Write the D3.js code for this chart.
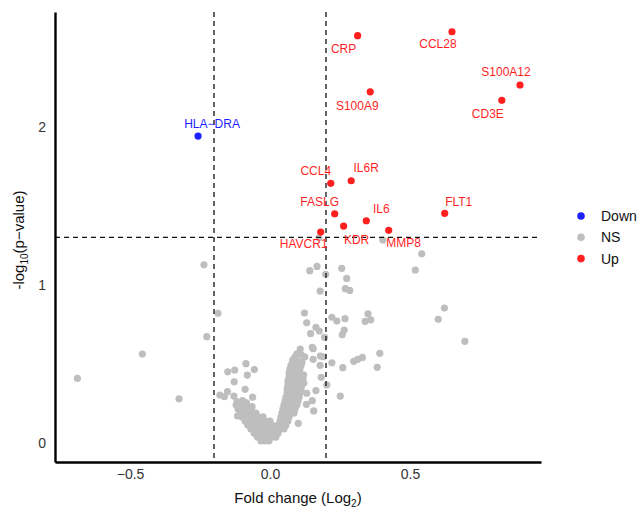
<!DOCTYPE html>
<html>
<head>
<meta charset="utf-8">
<script src="https://cdn.jsdelivr.net/npm/d3@7"></script>
<style>
  body { margin: 0; background: #fff; }
  text { font-family: "Liberation Sans", Arial, sans-serif; }
</style>
</head>
<body>
<div id="chart"></div>
<script>
// Significant genes
const sigNames = ["CRP", "CCL28", "S100A12", "CD3E", "S100A9", "CCL4", "IL6R", "FASLG", "IL6", "KDR", "HAVCR1", "MMP8", "FLT1", "HLA\u2212DRA"];
const sigFold  = [0.313, 0.650, 0.893, 0.828, 0.358, 0.217, 0.290, 0.231, 0.344, 0.263, 0.181, 0.424, 0.624, -0.257];
const sigLogP  = [2.578, 2.603, 2.266, 2.169, 2.223, 1.644, 1.660, 1.451, 1.407, 1.373, 1.335, 1.346, 1.454, 1.943];
const sigGroup = ["Up", "Up", "Up", "Up", "Up", "Up", "Up", "Up", "Up", "Up", "Up", "Up", "Up", "Down"];

// Non significant genes [fold change, -log10 p]
const nsPoints = [
  // scattered
  [-0.688, 0.409], [-0.456, 0.563], [-0.325, 0.280], [-0.236, 1.128], [-0.226, 0.673], [-0.186, 0.821],
  [-0.179, 0.304], [-0.152, 0.325], [-0.163, 0.293], [-0.151, 0.451], [-0.126, 0.462], [-0.128, 0.388],
  [-0.129, 0.297], [-0.118, 0.263], [-0.116, 0.171], [-0.086, 0.502], [-0.056, 0.465], [-0.081, 0.430],
  [-0.089, 0.340], [-0.062, 0.290], [-0.107, 0.247], [-0.064, 0.230], [-0.081, 0.128],
  [0.142, 1.091], [0.168, 1.118], [0.199, 1.068], [0.179, 0.962], [0.256, 1.106], [0.274, 1.042],
  [0.269, 0.977], [0.285, 0.966], [0.542, 1.198], [0.519, 1.095], [0.601, 0.783], [0.623, 0.854],
  [0.696, 0.644], [0.123, 0.823], [0.131, 0.761], [0.164, 0.732], [0.176, 0.709], [0.145, 0.692],
  [0.195, 0.669], [0.221, 0.796], [0.239, 0.772], [0.268, 0.787], [0.265, 0.715], [0.258, 0.685],
  [0.350, 0.818], [0.360, 0.780], [0.340, 0.770], [0.392, 0.568], [0.383, 0.479], [0.330, 0.542],
  [0.313, 0.530], [0.299, 0.517], [0.260, 0.477], [0.251, 0.297], [0.221, 0.508], [0.203, 0.367],
  [0.183, 0.416], [0.179, 0.492], [0.190, 0.546], [0.180, 0.551], [0.154, 0.597], [0.108, 0.595],
  [0.124, 0.546], [0.154, 0.530], [0.081, 0.525], [0.151, 0.606], [0.164, 0.332], [0.151, 0.268],
  [0.156, 0.203], [0.130, 0.245], [0.131, 0.315], [0.101, 0.125], [0.175, 1.299], [0.403, 1.285],
  // left arm of the funnel
  [-0.032, 0.013], [-0.018, 0.013], [-0.004, 0.013],
  [-0.046, 0.038], [-0.032, 0.038], [-0.018, 0.038], [-0.004, 0.038],
  [-0.057, 0.063], [-0.043, 0.063], [-0.029, 0.063], [-0.014, 0.063], [0.000, 0.063],
  [-0.068, 0.089], [-0.054, 0.089], [-0.039, 0.089], [-0.025, 0.089], [-0.011, 0.089], [0.004, 0.089],
  [-0.079, 0.114], [-0.064, 0.114], [-0.050, 0.114], [-0.036, 0.114], [-0.021, 0.114], [-0.007, 0.114], [0.007, 0.114],
  [-0.089, 0.139], [-0.075, 0.139], [-0.061, 0.139], [-0.046, 0.139], [-0.032, 0.139], [-0.018, 0.139], [0.000, 0.139],
  [-0.100, 0.165], [-0.086, 0.165], [-0.071, 0.165], [-0.057, 0.165], [-0.043, 0.165], [-0.025, 0.165],
  [-0.107, 0.190], [-0.093, 0.190], [-0.079, 0.190], [-0.064, 0.190], [-0.050, 0.190],
  [-0.114, 0.215], [-0.100, 0.215], [-0.086, 0.215], [-0.071, 0.215],
  [-0.121, 0.241], [-0.107, 0.241], [-0.093, 0.241], [-0.098, 0.268], [-0.084, 0.255],
  // right arm of the funnel
  [0.007, 0.038], [0.021, 0.038], [0.014, 0.063], [0.029, 0.063],
  [0.021, 0.089], [0.036, 0.089], [0.050, 0.089],
  [0.029, 0.114], [0.043, 0.114], [0.057, 0.114],
  [0.036, 0.139], [0.050, 0.139], [0.064, 0.139],
  [0.039, 0.165], [0.054, 0.165], [0.068, 0.165],
  [0.043, 0.190], [0.057, 0.190], [0.071, 0.190], [0.086, 0.190],
  [0.046, 0.215], [0.061, 0.215], [0.075, 0.215], [0.089, 0.215],
  [0.050, 0.241], [0.064, 0.241], [0.079, 0.241], [0.096, 0.241],
  [0.054, 0.266], [0.068, 0.266], [0.082, 0.266], [0.100, 0.266],
  [0.057, 0.291], [0.071, 0.291], [0.086, 0.291], [0.104, 0.291],
  [0.061, 0.316], [0.075, 0.316], [0.089, 0.316], [0.107, 0.316],
  [0.061, 0.342], [0.075, 0.342], [0.093, 0.342], [0.111, 0.342],
  [0.064, 0.367], [0.079, 0.367], [0.096, 0.367], [0.114, 0.367],
  [0.064, 0.392], [0.082, 0.392], [0.100, 0.392], [0.118, 0.405],
  [0.068, 0.418], [0.086, 0.418], [0.104, 0.418], [0.121, 0.380],
  [0.068, 0.443], [0.086, 0.443], [0.104, 0.443], [0.120, 0.432],
  [0.071, 0.468], [0.089, 0.468], [0.107, 0.470], [0.075, 0.494], [0.093, 0.494], [0.111, 0.490],
  [0.082, 0.519], [0.100, 0.519], [0.114, 0.512], [0.089, 0.544], [0.096, 0.565], [0.111, 0.560]
];

const xTicks = [-0.5, 0, 0.5];
const yTicks = [0, 1, 2];
const legendGroups = ["Down", "NS", "Up"];
const foldCut = 0.2;
const pCut = 0.05;

// label nudges in px (ggrepel placement in the original)
const labelNudge = {
  "CRP": [-14, 13], "CCL28": [-14, 12], "S100A12": [-14, -13], "CD3E": [-14, 13],
  "S100A9": [-13, 14], "CCL4": [-15, -12], "IL6R": [15, -13], "FASLG": [-15, -12],
  "IL6": [15, -12], "KDR": [13, 14], "HAVCR1": [-17, 12], "MMP8": [15, 12],
  "FLT1": [14, -11], "HLA\u2212DRA": [14, -12]
};

const colors = { Down: "#1f1fff", NS: "#bebebe", Up: "#ff1f1f" };

const width = 644, height = 514;
const margin = { top: 12, right: 103, bottom: 52, left: 55 };

const svg = d3.select("#chart").append("svg")
  .attr("width", width)
  .attr("height", height);

const x = d3.scaleLinear().domain([-0.768, 0.968]).range([margin.left, width - margin.right]);
const y = d3.scaleLinear().domain([-0.12, 2.728]).range([height - margin.bottom, margin.top]);

const sig = sigNames.map((n, i) => ({ name: n, fc: sigFold[i], lp: sigLogP[i], group: sigGroup[i] }));

// NS points
svg.append("g").selectAll("circle")
  .data(nsPoints)
  .join("circle")
  .attr("cx", d => x(d[0]))
  .attr("cy", d => y(d[1]))
  .attr("r", 3.6)
  .attr("fill", colors.NS);

// threshold lines
const dash = svg.append("g")
  .attr("stroke", "#111")
  .attr("stroke-width", 1.3)
  .attr("stroke-dasharray", "5,4")
  .attr("fill", "none");
[-foldCut, foldCut].forEach(v => {
  dash.append("line")
    .attr("x1", x(v)).attr("x2", x(v))
    .attr("y1", margin.top).attr("y2", height - margin.bottom);
});
dash.append("line")
  .attr("x1", margin.left).attr("x2", width - margin.right)
  .attr("y1", y(-Math.log10(pCut))).attr("y2", y(-Math.log10(pCut)));

// significant points
svg.append("g").selectAll("circle")
  .data(sig)
  .join("circle")
  .attr("cx", d => x(d.fc))
  .attr("cy", d => y(d.lp))
  .attr("r", 3.6)
  .attr("fill", d => colors[d.group]);

// labels
svg.append("g").selectAll("text")
  .data(sig)
  .join("text")
  .attr("x", d => x(d.fc) + labelNudge[d.name][0])
  .attr("y", d => y(d.lp) + labelNudge[d.name][1])
  .attr("dy", "0.35em")
  .attr("text-anchor", "middle")
  .attr("font-size", 12)
  .attr("fill", d => colors[d.group])
  .text(d => d.name);

// axes
const fmt = d => d === 0 ? "0.0" : d3.format(".1f")(d).replace("-", "\u2212");
const xAxis = svg.append("g")
  .attr("transform", `translate(0,${height - margin.bottom})`)
  .call(d3.axisBottom(x).tickValues(xTicks).tickFormat(fmt).tickSize(0).tickPadding(7));
const yAxis = svg.append("g")
  .attr("transform", `translate(${margin.left},0)`)
  .call(d3.axisLeft(y).tickValues(yTicks).tickFormat(d3.format("d")).tickSize(0).tickPadding(9));

[xAxis, yAxis].forEach(a => {
  a.select(".domain").attr("stroke", "#000").attr("stroke-width", 2.4);
  a.selectAll("text").attr("font-size", 14).attr("fill", "#333")
    .attr("font-family", "Liberation Sans, Arial, sans-serif");
});

// axis titles
const xt = svg.append("text")
  .attr("x", 298).attr("y", 503)
  .attr("text-anchor", "middle")
  .attr("font-size", 15)
  .attr("fill", "#111");
xt.append("tspan").text("Fold change (Log");
xt.append("tspan").attr("font-size", 10).attr("dy", 4).text("2");
xt.append("tspan").attr("dy", -4).text(")");

const yt = svg.append("text")
  .attr("transform", "translate(24,240) rotate(-90)")
  .attr("text-anchor", "middle")
  .attr("font-size", 15)
  .attr("fill", "#111");
yt.append("tspan").text("-log");
yt.append("tspan").attr("font-size", 10).attr("dy", 4).text("10");
yt.append("tspan").attr("dy", -4).text("(p\u2212value)");

// legend
const leg = svg.append("g").selectAll("g")
  .data(legendGroups)
  .join("g")
  .attr("transform", (d, i) => `translate(581,${216 + i * 21.3})`);
leg.append("circle").attr("r", 3.8).attr("fill", d => colors[d]);
leg.append("text")
  .attr("x", 20).attr("dy", "0.35em")
  .attr("font-size", 14)
  .attr("fill", "#111")
  .text(d => d);
</script>
</body>
</html>
